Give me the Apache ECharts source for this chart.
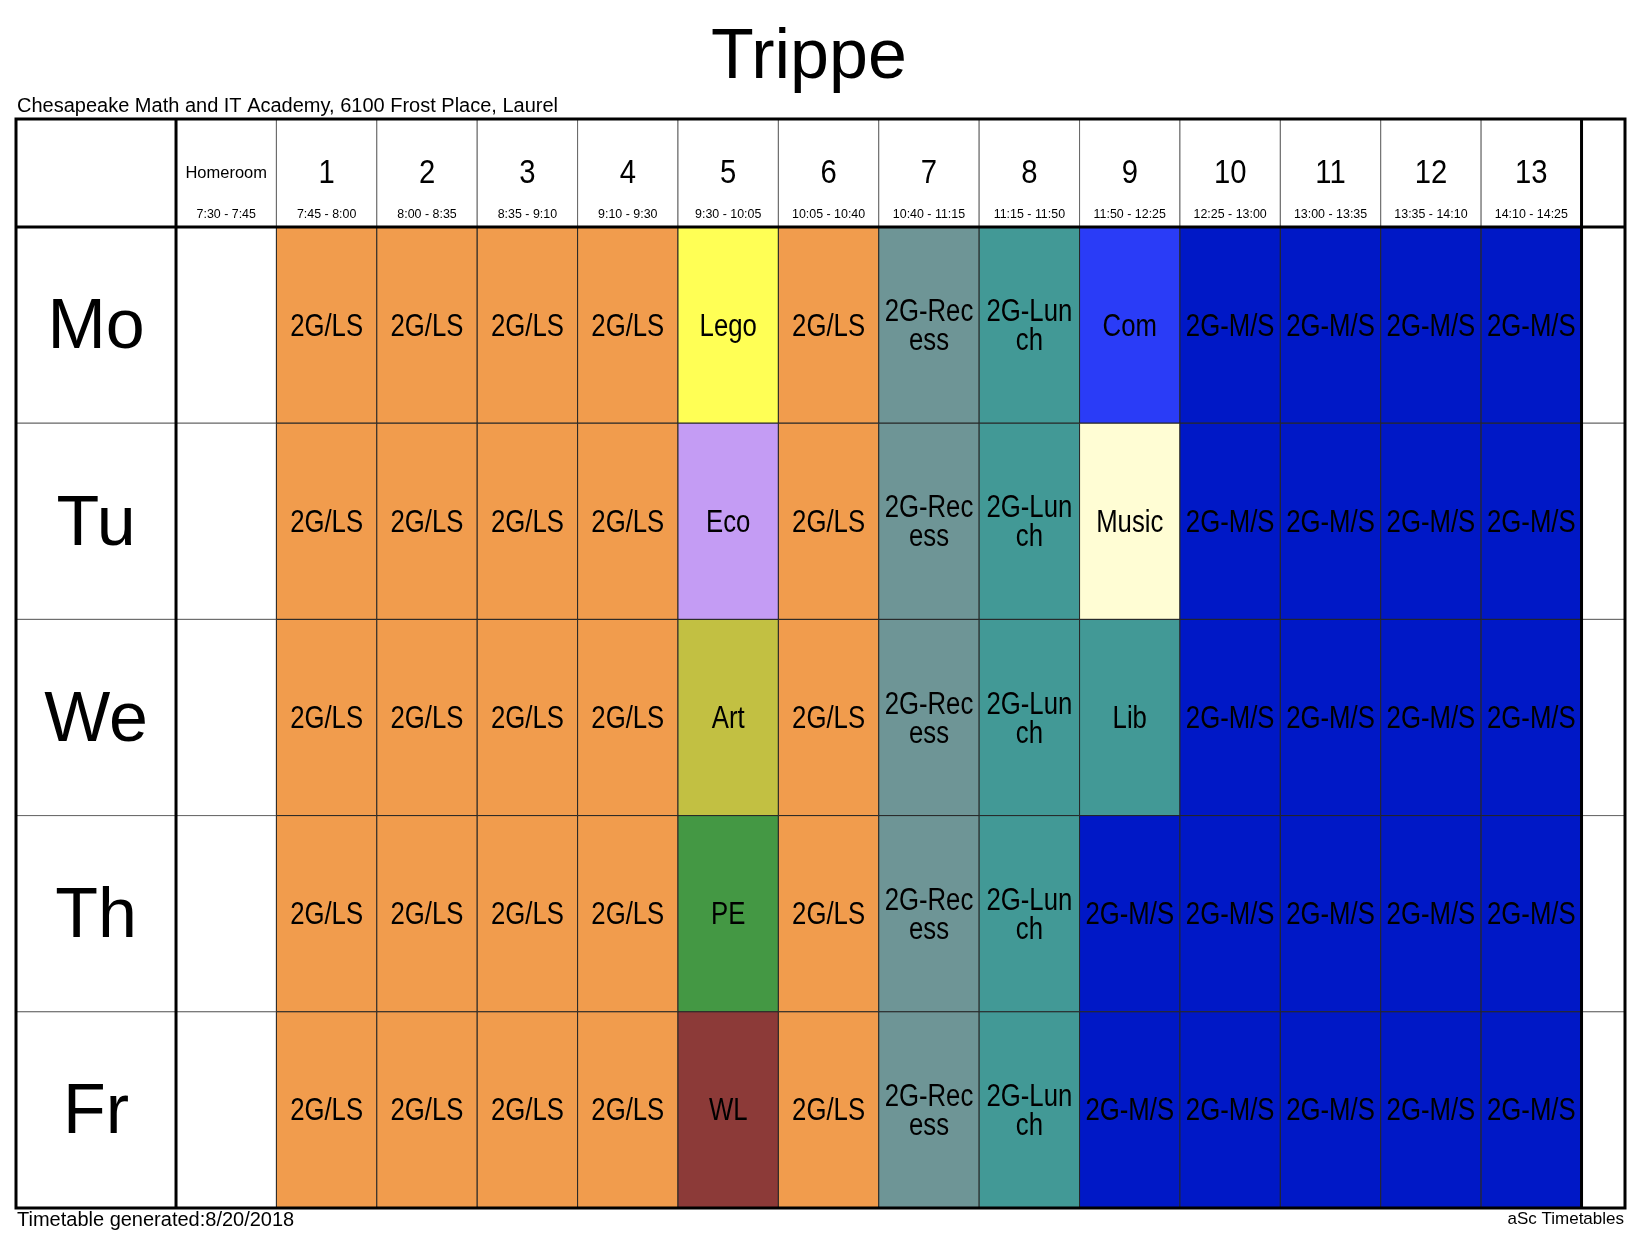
<!DOCTYPE html>
<html>
<head>
<meta charset="utf-8">
<title>Trippe</title>
<script src="https://cdn.jsdelivr.net/npm/echarts@6/dist/echarts.min.js"></script>
<style>
  html, body { margin: 0; padding: 0; background: #fff; }
  #main { width: 1646px; height: 1236px; }
</style>
</head>
<body>
<div id="main"></div>
<script>
// timetable data
var days = ['Mo', 'Tu', 'We', 'Th', 'Fr'];
var periods = ['1', '2', '3', '4', '5', '6', '7', '8', '9', '10', '11', '12', '13'];
var periodTimes = ['7:45 - 8:00', '8:00 - 8:35', '8:35 - 9:10', '9:10 - 9:30', '9:30 - 10:05', '10:05 - 10:40',
  '10:40 - 11:15', '11:15 - 11:50', '11:50 - 12:25', '12:25 - 13:00', '13:00 - 13:35', '13:35 - 14:10', '14:10 - 14:25'];
var homeroomName = 'Homeroom';
var homeroomTime = '7:30 - 7:45';

var monday = ['2G/LS', '2G/LS', '2G/LS', '2G/LS', 'Lego', '2G/LS', '2G-Recess', '2G-Lunch', 'Com', '2G-M/S', '2G-M/S', '2G-M/S', '2G-M/S'];
var tuesday = ['2G/LS', '2G/LS', '2G/LS', '2G/LS', 'Eco', '2G/LS', '2G-Recess', '2G-Lunch', 'Music', '2G-M/S', '2G-M/S', '2G-M/S', '2G-M/S'];
var wednesday = ['2G/LS', '2G/LS', '2G/LS', '2G/LS', 'Art', '2G/LS', '2G-Recess', '2G-Lunch', 'Lib', '2G-M/S', '2G-M/S', '2G-M/S', '2G-M/S'];
var thursday = ['2G/LS', '2G/LS', '2G/LS', '2G/LS', 'PE', '2G/LS', '2G-Recess', '2G-Lunch', '2G-M/S', '2G-M/S', '2G-M/S', '2G-M/S', '2G-M/S'];
var friday = ['2G/LS', '2G/LS', '2G/LS', '2G/LS', 'WL', '2G/LS', '2G-Recess', '2G-Lunch', '2G-M/S', '2G-M/S', '2G-M/S', '2G-M/S', '2G-M/S'];
var week = [monday, tuesday, wednesday, thursday, friday];

var subjectColors = {
  '2G/LS': '#F19C4D',
  'Lego': '#FFFF55',
  'Eco': '#C49CF4',
  'Art': '#C2C042',
  'PE': '#449844',
  'WL': '#8C3A38',
  '2G-Recess': '#6E9596',
  '2G-Lunch': '#429996',
  'Com': '#2A3CF7',
  'Music': '#FFFDD4',
  'Lib': '#429996',
  '2G-M/S': '#0018C6'
};

var FONT = '"Liberation Sans", Arial, sans-serif';
// axis extents: day column left of 0, extra blank column right of 14, header above 0
var X_MIN = -1.594, X_MAX = 14.433, HEAD_TOP = -0.5505;

var lessonCells = [];
week.forEach(function (lessons, d) {
  lessons.forEach(function (s, p) {
    lessonCells.push({ value: [p + 1, d], subject: s });
  });
});

function box(api, x0, y0, x1, y1) {
  var a = api.coord([x0, y0]);
  var b = api.coord([x1, y1]);
  return { x: a[0], y: a[1], width: b[0] - a[0], height: b[1] - a[1] };
}

function label(x, y, text, size, sx, extra) {
  var st = { text: text, x: 0, y: 0, align: 'center', verticalAlign: 'middle',
    fontSize: size, fontFamily: FONT, fill: '#000' };
  if (extra) { for (var k in extra) st[k] = extra[k]; }
  return { type: 'text', x: x, y: y, scaleX: sx, style: st };
}

var chart = echarts.init(document.getElementById('main'));

var option = {
  animation: false,
  title: [
    { text: 'Trippe', left: 711, top: 24, padding: 0,
      textStyle: { fontSize: 70, fontWeight: 'normal', fontFamily: FONT, color: '#000' } },
    { text: 'Chesapeake Math and IT Academy, 6100 Frost Place, Laurel', left: 17, top: 96, padding: 0,
      textStyle: { fontSize: 20, fontWeight: 'normal', fontFamily: FONT, color: '#000' } },
    { text: 'Timetable generated:8/20/2018', left: 17, top: 1210, padding: 0,
      textStyle: { fontSize: 20, fontWeight: 'normal', fontFamily: FONT, color: '#000' } },
    { text: 'aSc Timetables', right: 22, top: 1211, padding: 0,
      textStyle: { fontSize: 17, fontWeight: 'normal', fontFamily: FONT, color: '#000' } }
  ],
  grid: { left: 16, right: 21, top: 119, bottom: 28 },
  xAxis: { type: 'value', min: X_MIN, max: X_MAX, show: false },
  yAxis: { type: 'value', min: HEAD_TOP, max: days.length, inverse: true, show: false },
  series: [
    {
      // day names, homeroom column and the blank column on the right
      type: 'custom',
      data: days.map(function (d, i) { return [i]; }),
      renderItem: function (params, api) {
        var r = api.value(0);
        var dayBox = box(api, X_MIN, r, 0, r + 1);
        var homeBox = box(api, 0, r, 1, r + 1);
        var endBox = box(api, 14, r, X_MAX, r + 1);
        var ls = { fill: '#fff', stroke: '#666', lineWidth: 1 };
        return { type: 'group', children: [
          { type: 'rect', shape: dayBox, style: ls },
          { type: 'rect', shape: homeBox, style: ls },
          { type: 'rect', shape: endBox, style: ls },
          label(dayBox.x + dayBox.width / 2, dayBox.y + dayBox.height / 2 + 4, days[r], 70, 1)
        ] };
      }
    },
    {
      // header row
      type: 'custom',
      data: [[0]].concat(periods.map(function (p, i) { return [i + 1]; })),
      renderItem: function (params, api) {
        var c = api.value(0);
        var b = box(api, c, HEAD_TOP, c + 1, 0);
        var cx = b.x + b.width / 2;
        var kids = [{ type: 'rect', shape: b, style: { fill: '#fff', stroke: '#666', lineWidth: 1 } }];
        if (c === 0) {
          kids.push(label(cx, b.y + 54, homeroomName, 17, 0.97));
          kids.push(label(cx, b.y + 95, homeroomTime, 13.5, 0.92));
        } else {
          kids.push(label(cx, b.y + 55, periods[c - 1], 34, 0.86));
          kids.push(label(cx, b.y + 95, periodTimes[c - 1], 13.5, 0.92));
        }
        return { type: 'group', children: kids };
      }
    },
    {
      // lessons
      type: 'custom',
      data: lessonCells,
      renderItem: function (params, api) {
        var c = api.value(0), r = api.value(1);
        var subject = lessonCells[params.dataIndex].subject;
        var b = box(api, c, r, c + 1, r + 1);
        return { type: 'group', children: [
          { type: 'rect', shape: b, style: { fill: subjectColors[subject], stroke: '#262626', lineWidth: 1 } },
          label(b.x + b.width / 2, b.y + b.height / 2 + 2, subject, 31, 0.83,
            { width: 114, overflow: 'breakAll', lineHeight: 29 })
        ] };
      }
    },
    {
      // heavy frame lines
      type: 'custom',
      data: [[0]],
      z: 5,
      renderItem: function (params, api) {
        var outer = box(api, X_MIN, HEAD_TOP, X_MAX, days.length);
        var heavy = { stroke: '#000', lineWidth: 3, fill: null };
        function seg(x0, y0, x1, y1) {
          var a = api.coord([x0, y0]), b = api.coord([x1, y1]);
          return { type: 'line', shape: { x1: a[0], y1: a[1], x2: b[0], y2: b[1] }, style: heavy };
        }
        return { type: 'group', children: [
          { type: 'rect', shape: outer, style: heavy },
          seg(0, HEAD_TOP, 0, days.length),
          seg(14, HEAD_TOP, 14, days.length),
          seg(X_MIN, 0, X_MAX, 0)
        ] };
      }
    }
  ]
};

chart.setOption(option);
</script>
</body>
</html>
